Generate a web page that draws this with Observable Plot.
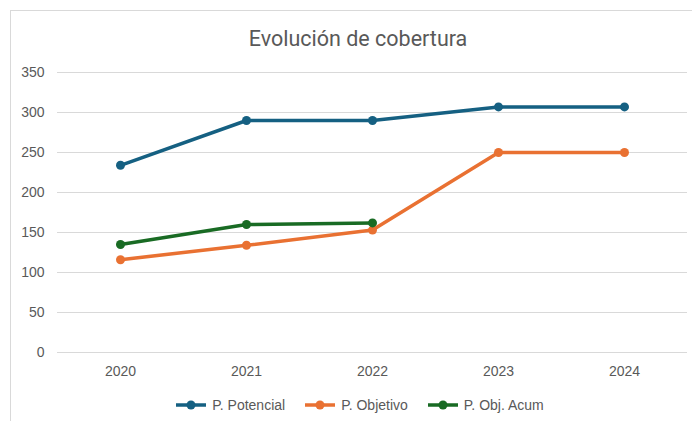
<!DOCTYPE html>
<html>
<head>
<meta charset="utf-8">
<script src="https://cdn.jsdelivr.net/npm/d3@7"></script>
<script src="https://cdn.jsdelivr.net/npm/@observablehq/plot@0.6"></script>
<style>
  html, body { margin: 0; padding: 0; background: #fff; overflow: hidden; }
  #wrap { position: relative; width: 692px; height: 421px; overflow: hidden; font-family: "Liberation Sans", Arial, sans-serif; }
  #frame { position: absolute; left: 10px; top: 10px; width: 720px; height: 440px; border: 1px solid #d9d9d9; box-sizing: border-box; }
  #title { position: absolute; left: 0; top: 25px; width: 716px; text-align: center; font-family: Roboto, sans-serif; font-size: 21.5px; color: #595959; line-height: 28px; }
  #chart { position: absolute; left: 0; top: 60px; }
  #legend { position: absolute; left: 0; top: 395px; width: 720px; display: flex; justify-content: center; gap: 20px; font-size: 14px; color: #595959; line-height: 20px; }
  .item { display: flex; align-items: center; gap: 6px; }
</style>
</head>
<body>
<div id="wrap">
  <div id="frame"></div>
  <div id="title">Evolución de cobertura</div>
  <div id="chart"></div>
  <div id="legend"></div>
</div>
<script>
const years = ["2020", "2021", "2022", "2023", "2024"];
const seriesNames = ["P. Potencial", "P. Objetivo", "P. Obj. Acum"];
const potencial = [234, 290, 290, 307, 307];
const objetivo = [116, 134, 153, 250, 250];
const objAcum = [135, 160, 162];
const colors = ["#156082", "#E97132", "#196B24"];
const yTicks = [0, 50, 100, 150, 200, 250, 300, 350];

const values = [potencial, objetivo, objAcum];
const data = [];
seriesNames.forEach((s, i) => {
  values[i].forEach((v, j) => data.push({year: years[j], value: v, series: s}));
});

const plot = Plot.plot({
  width: 692,
  height: 327,
  marginTop: 12,
  marginBottom: 35,
  marginLeft: 57,
  marginRight: 5,
  style: {fontFamily: "Liberation Sans, Arial, sans-serif", fontSize: "14px", color: "#595959", background: "transparent"},
  x: {type: "point", domain: years, padding: 0.5, label: null},
  y: {domain: [0, 350], label: null},
  color: {domain: seriesNames, range: colors},
  marks: [
    Plot.gridY(yTicks, {stroke: "#d9d9d9", strokeOpacity: 1, strokeWidth: 1}),
    Plot.axisY(yTicks, {tickSize: 0, tickPadding: 13, fontSize: 14, fill: "#595959", label: null}),
    Plot.axisX(years, {tickSize: 0, tickPadding: 14, fontSize: 14, fill: "#595959", label: null}),
    Plot.line(data, {x: "year", y: "value", z: "series", stroke: "series", strokeWidth: 3.5, strokeLinejoin: "round", strokeLinecap: "round"}),
    Plot.dot(data, {x: "year", y: "value", fill: "series", r: 4.5, stroke: null})
  ]
});
document.getElementById("chart").appendChild(plot);

const legend = document.getElementById("legend");
seriesNames.forEach((s, i) => {
  const item = document.createElement("div");
  item.className = "item";
  item.innerHTML = `<svg width="30" height="10"><line x1="0" y1="5" x2="30" y2="5" stroke="${colors[i]}" stroke-width="3.5"/><circle cx="15" cy="5" r="4.5" fill="${colors[i]}"/></svg><span>${s}</span>`;
  legend.appendChild(item);
});
</script>
</body>
</html>
